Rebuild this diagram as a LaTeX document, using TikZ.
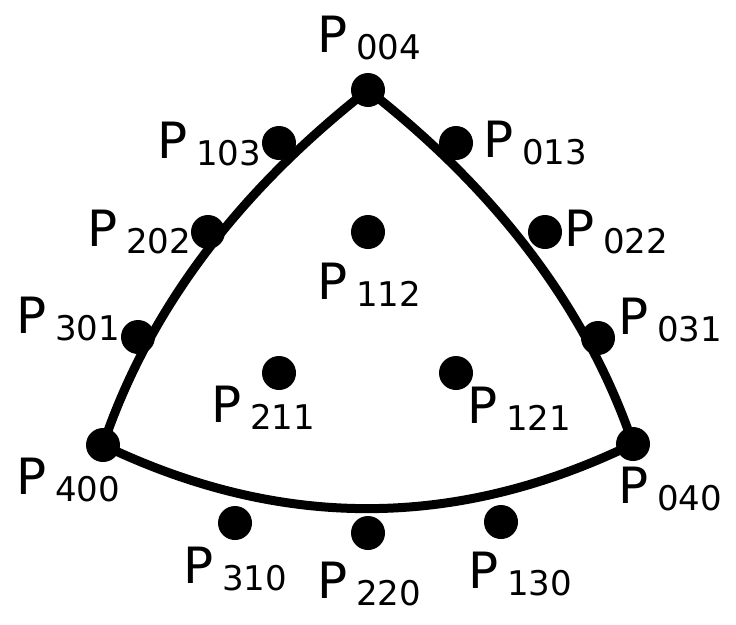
\documentclass[tikz,border=0pt]{standalone}
\usepackage{fontspec}
\setmainfont{DejaVu Sans}
\newcommand{\Plab}[1]{P\kern9pt\raisebox{-7pt}{\fontsize{34}{34}\selectfont #1}}

\begin{document}
\begin{tikzpicture}[x=1pt,y=-1pt]
    \tikzstyle{pt} = [circle, fill=black, inner sep=0pt, minimum size=34pt]
    \tikzstyle{ann} = [anchor=base west, inner sep=0pt, font=\fontsize{50}{50}\selectfont]
    \useasboundingbox (0,0) rectangle (736,624);

    % control points
    \node[pt] (p004) at (368,90) {};
    \node[pt] (p103) at (279,143) {};
    \node[pt] (p013) at (456,143) {};
    \node[pt] (p202) at (208,232) {};
    \node[pt] (p112) at (368,232) {};
    \node[pt] (p022) at (545,232) {};
    \node[pt] (p301) at (138,337) {};
    \node[pt] (p031) at (598,338) {};
    \node[pt] (p211) at (279,373) {};
    \node[pt] (p121) at (456,373) {};
    \node[pt] (p400) at (103,445) {};
    \node[pt] (p040) at (633,444) {};
    \node[pt] (p310) at (235,523) {};
    \node[pt] (p220) at (368,533) {};
    \node[pt] (p130) at (501,522) {};

    % patch boundary
    \draw[line width=9pt, line join=round] (p400.center)
        .. controls (152,300) and (248,184) .. (p004.center)
        .. controls (488,184) and (584,300) .. (p040.center)
        .. controls (456,530) and (280,530) .. cycle;

    % labels
    \node[ann] (l004) at (317,52) {\Plab{004}};
    \node[ann] (l103) at (157,158) {\Plab{103}};
    \node[ann] (l013) at (483,157) {\Plab{013}};
    \node[ann] (l202) at (87,246) {\Plab{202}};
    \node[ann] (l022) at (564,246) {\Plab{022}};
    \node[ann] (l112) at (317,299) {\Plab{112}};
    \node[ann] (l301) at (16,333) {\Plab{301}};
    \node[ann] (l031) at (618,334) {\Plab{031}};
    \node[ann] (l211) at (211,422) {\Plab{211}};
    \node[ann] (l121) at (467,423) {\Plab{121}};
    \node[ann] (l400) at (16,494) {\Plab{400}};
    \node[ann] (l040) at (618,503) {\Plab{040}};
    \node[ann] (l310) at (183,583) {\Plab{310}};
    \node[ann] (l220) at (317,598) {\Plab{220}};
    \node[ann] (l130) at (468,588) {\Plab{130}};
\end{tikzpicture}
\end{document}
